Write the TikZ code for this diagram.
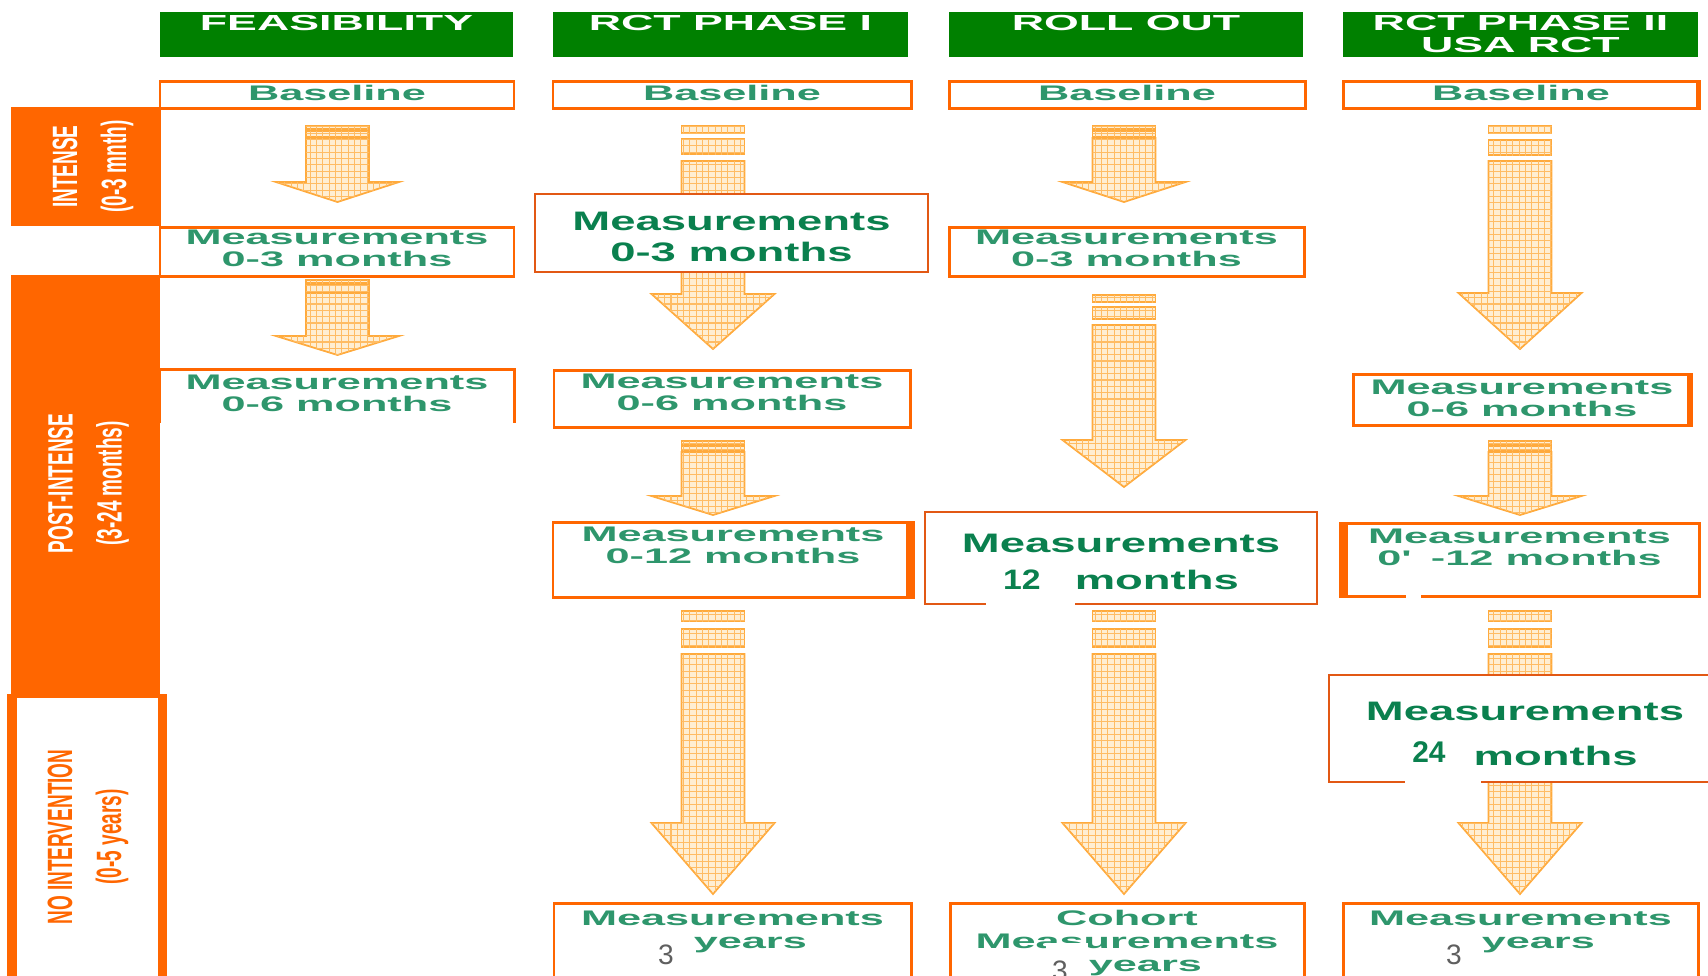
\documentclass[tikz,border=0pt]{standalone}
\usepackage{fontspec}
\usetikzlibrary{positioning}
\usetikzlibrary{fit}
\usetikzlibrary{calc}
\usetikzlibrary{patterns}

\definecolor{hdrgreen}{RGB}{0,128,0}
\definecolor{bandorange}{RGB}{255,102,0}
\definecolor{boxorange}{RGB}{255,102,0}
\definecolor{bigorange}{RGB}{226,88,20}
\definecolor{txtgreen}{RGB}{46,150,108}
\definecolor{darkgreen}{RGB}{10,128,78}
\definecolor{arrowedge}{RGB}{255,170,60}
\definecolor{arrowgrid}{RGB}{255,188,100}
\definecolor{arrowbg}{RGB}{255,238,210}
\definecolor{digitgray}{RGB}{95,95,95}

\newfontfamily\widefont{Liberation Sans}[FakeStretch=2.05]
\newfontfamily\bigwidefont{Liberation Sans}[FakeStretch=1.7]
\newfontfamily\numfont{Liberation Sans}[FakeStretch=1.2]
\newfontfamily\narrowfont{Liberation Sans}[FakeStretch=0.54]
\newfontfamily\plainsans{Liberation Sans}
\newcommand{\threedigit}{\plainsans\mdseries\color{digitgray}\fontsize{8}{8}\selectfont}

\pgfdeclarepatternformonly{finegrid}{\pgfqpoint{-0.5pt}{-0.5pt}}{\pgfqpoint{2.3pt}{2.3pt}}{\pgfqpoint{1.8pt}{1.8pt}}{%
  \pgfsetlinewidth{0.3pt}%
  \pgfpathmoveto{\pgfqpoint{0pt}{0pt}}\pgfpathlineto{\pgfqpoint{1.85pt}{0pt}}%
  \pgfpathmoveto{\pgfqpoint{0pt}{0pt}}\pgfpathlineto{\pgfqpoint{0pt}{1.85pt}}%
  \pgfusepath{stroke}}

\tikzset{hdr/.style={fill=hdrgreen, inner sep=0pt}}
\tikzset{hdrtext/.style={text=white, font=\widefont\bfseries\fontsize{6.2}{6.4}\selectfont, align=center, inner sep=0pt}}
\tikzset{box/.style={draw=boxorange, line width=0.85pt, fill=white, inner sep=0pt}}
\tikzset{bigbox/.style={draw=bigorange, line width=0.7pt, fill=white, inner sep=0pt}}
\tikzset{boxtext/.style={text=txtgreen, font=\widefont\bfseries\fontsize{6}{6.3}\selectfont, align=center, inner sep=0pt}}
\tikzset{bigtext/.style={text=darkgreen, font=\bigwidefont\bfseries\fontsize{7.6}{8.8}\selectfont, align=center, inner sep=0pt}}
\tikzset{band/.style={fill=bandorange, inner sep=0pt}}
\tikzset{bandtext/.style={rotate=90, align=center, inner sep=0pt, font=\narrowfont\bfseries\fontsize{10}{14}\selectfont}}
\tikzset{arrowbody/.style={fill=arrowbg, draw=arrowedge, line width=0.5pt, postaction={pattern=finegrid, pattern color=arrowgrid}}}
\tikzset{patch/.style={fill=white}}

% x, bar1 top/bottom, bar2 top/bottom, shaft top, head start, tip
\newcommand{\blockarrow}[8]{%
  \path[arrowbody] (#1-31.5,#2) rectangle (#1+31.5,#3);
  \path[arrowbody] (#1-31.5,#4) rectangle (#1+31.5,#5);
  \path[arrowbody] (#1-31.5,#6) -- (#1+31.5,#6) -- (#1+31.5,#7) -- (#1+61.5,#7)
    -- (#1,#8) -- (#1-61.5,#7) -- (#1-31.5,#7) -- cycle;}

\begin{document}
\begin{tikzpicture}[x=0.01cm, y=-0.01cm]
      \useasboundingbox (0,0) rectangle (1708,975);
      \clip (0,0) rectangle (1708,975);

      % phase bands on the left
      \node [band, fit={(11,107) (161,226)}] (intense) {};
      \node [bandtext, text=white] at ($(intense.center)+(7,0)$) {INTENSE\\(0-3 mnth)};

      \node [band, fit={(11,275) (160,694)}] (post) {};
      \node [bandtext, text=white] at ($(post.center)+(3,-1)$) {POST-INTENSE\\(3-24 months)};

      \node [band, fit={(7,694) (167,990)}] (noint) {};
      \fill [white] ($(noint.north west)+(11,5)$) rectangle ($(noint.south east)+(-10,0)$);
      \node [bandtext, text=bandorange] at (88,837) {NO INTERVENTION\\(0-5 years)};

      % column headers
      \node [hdr, fit={(160,12) (513,57)}] (hfeas) {};
      \node [hdrtext, below=0.03cm of hfeas.north] {FEASIBILITY};
      \node [hdr, fit={(553,12) (908,57)}] (hrct1) {};
      \node [hdrtext, below=0.03cm of hrct1.north] {RCT PHASE I};
      \node [hdr, fit={(949,12) (1303,57)}] (hroll) {};
      \node [hdrtext, below=0.03cm of hroll.north] {ROLL OUT};
      \node [hdr, fit={(1343,12) (1698,57)}] (hrct2) {};
      \node [hdrtext, below=0.03cm of hrct2.north] {RCT PHASE II\\USA RCT};

      % arrows
      \blockarrow{337.5}{126}{129}{131}{137}{138}{182}{202}
      \blockarrow{337.5}{280}{283}{285}{292}{293}{336}{355}
      \blockarrow{713}{126}{133}{139}{154}{161}{294}{349}
      \blockarrow{713}{441}{444}{446}{450}{452}{496}{515}
      \blockarrow{713}{611}{621}{629}{647}{654}{823}{894}
      \blockarrow{1124}{126}{129}{131}{137}{138}{182}{202}
      \blockarrow{1124}{295}{302}{307}{319}{325}{440}{487}
      \blockarrow{1124}{611}{621}{629}{647}{654}{823}{894}
      \blockarrow{1520}{126}{133}{140}{155}{161}{293}{349}
      \blockarrow{1520}{441}{444}{446}{450}{452}{496}{515}
      \blockarrow{1520}{611}{621}{629}{647}{654}{823}{894}

      % baseline row
      \node [box, fit={(160,81) (514,108)}] (base1) {};
      \node [boxtext, below=0.05cm of base1.north] {Baseline};
      \node [box, fit={(553,81) (911,108)}] (base2) {};
      \node [boxtext, below=0.05cm of base2.north] {Baseline};
      \node [box, fit={(949,81) (1305,108)}] (base3) {};
      \node [boxtext, below=0.05cm of base3.north] {Baseline};
      \node [box, fit={(1343,81) (1699,108)}] (base4) {};
      \fill [boxorange] ($(base4.north east)+(-5,0)$) rectangle (base4.south east);
      \node [boxtext, below=0.05cm of base4.north] {Baseline};

      % feasibility
      \node [box, fit={(160,227) (514,276)}] (m3a) {};
      \node [boxtext, below=0.04cm of m3a.north] {Measurements\\0-3 months};
      \node [fill=white, inner sep=0pt, fit={(160,370) (514,422)}] (m6a) {};
      \draw [boxorange, line width=0.85pt] (m6a.south west) -- (m6a.north west) -- (m6a.north east) -- (m6a.south east);
      \node [boxtext, below=0.05cm of m6a.north] {Measurements\\0-6 months};

      % rct phase I
      \node [bigbox, fit={(535,194) (928,272)}] (m3b) {};
      \node [bigtext, below=0.19cm of m3b.north] {Measurements\\0-3 months};
      \node [box, fit={(554,370) (910,427)}] (m6b) {};
      \node [boxtext, below=0.05cm of m6b.north] {Measurements\\0-6 months};
      \node [box, fit={(553,522) (913,597)}] (m12b) {};
      \fill [boxorange] ($(m12b.north east)+(-9,0)$) rectangle (m12b.south east);
      \node [boxtext, below=0.06cm of m12b.north] {Measurements\\0-12 months};
      \node [box, fit={(554,903) (911,990)}] (m3yb) {};
      \node [boxtext, below=0.09cm of m3yb.north] {Measurements\\[0.2pt]\raisebox{-4.5pt}{\threedigit 3}\hspace{5.7pt}years};

      % roll out
      \node [box, fit={(949,227) (1304,276)}] (m3c) {};
      \node [boxtext, below=0.04cm of m3c.north] {Measurements\\0-3 months};
      \node [bigbox, fit={(925,512) (1317,604)}] (m12c) {};
      \fill [patch] (986,597) rectangle (1075,611);
      \node [bigtext, below=0.23cm of m12c.north] {Measurements\\[1.7pt]{\numfont\fontsize{8}{8}\selectfont 12}\hspace{9.7pt}months};
      \node [box, fit={(950,903) (1304,990)}] (coh) {};
      \node [boxtext, below=0.08cm of coh.north] {Cohort\\[0.2pt]Measurements\\[0.2pt]\raisebox{-2.5pt}{\threedigit 3}\hspace{6pt}years};
      \fill [patch] (1046,943) rectangle (1088,952);

      % rct phase II
      \node [box, fit={(1353,374) (1691,425)}] (m6d) {};
      \fill [boxorange] ($(m6d.north east)+(-6,0)$) rectangle (m6d.south east);
      \node [boxtext, below=0.07cm of m6d.north] {Measurements\\0-6 months};
      \node [box, fit={(1340,523) (1699,596)}] (m12d) {};
      \fill [boxorange] (m12d.north west) rectangle ($(m12d.south west)+(9,0)$);
      \fill [patch] (1406,590) rectangle (1421,601);
      \node [boxtext, below=0.07cm of m12d.north] {Measurements\\0\textquotesingle\hspace{7pt}-12 months};
      \node [bigbox, fit={(1329,675) (1721,782)}] (m24d) {};
      \fill [patch] (1405,772) rectangle (1481,790);
      \node [bigtext, below=0.28cm of m24d.north] {Measurements\\[4pt]\raisebox{1.1pt}{\plainsans\fontsize{8.5}{8.5}\selectfont 24}\hspace{8pt}months};
      \node [box, fit={(1343,903) (1698,990)}] (m3yd) {};
      \node [boxtext, below=0.09cm of m3yd.north] {Measurements\\[0.2pt]\raisebox{-4.5pt}{\threedigit 3}\hspace{5.7pt}years};
    \end{tikzpicture}
\end{document}
